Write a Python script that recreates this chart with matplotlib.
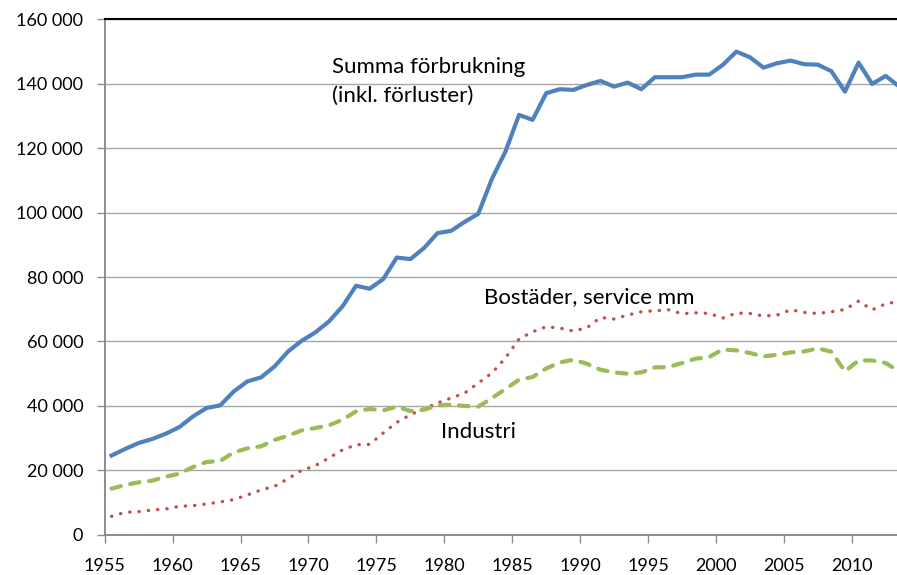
import numpy as np
import matplotlib
matplotlib.use("Agg")
import matplotlib.pyplot as plt
from matplotlib.ticker import FuncFormatter

years = np.arange(1955, 2014)

# Summa förbrukning (inkl. förluster)
summa = [24600, 26640, 28500, 29740, 31380, 33450, 36750, 39340, 40170, 44500,
         47600, 48840, 52250, 56900, 60220, 62800, 66200, 70860, 77280, 76350,
         79350, 86050, 85550, 88970, 93620, 94330, 97120, 99600, 110400, 118930,
         130300, 128750, 137040, 138270, 138060, 139600, 140850, 139080, 140330, 138270,
         142000, 142000, 142000, 142800, 142800, 145800, 149940, 148200, 144980, 146340,
         147150, 146030, 145900, 143860, 137530, 146530, 139920, 142400, 139080]

# Bostäder, service mm
bostader = [5740, 6980, 7200, 7720, 8030, 8840, 9050, 9580, 10200, 10920,
            12370, 13920, 15040, 17430, 20000, 21460, 23850, 26330, 27970, 28060,
            31600, 34890, 37270, 39130, 40900, 42450, 44000, 47100, 50200, 54860,
            60750, 63010, 64560, 64160, 63230, 64250, 67450, 66950, 68190, 69210,
            69520, 69830, 68600, 68900, 68690, 67260, 68810, 68690, 67880, 68190,
            69830, 69000, 68690, 69210, 69930, 72530, 69830, 71690, 72400]

# Industri
industri = [14330, 15470, 16280, 16810, 18050, 18980, 21050, 22600, 22910, 25590,
            26830, 27450, 29430, 30760, 32410, 33150, 33960, 35720, 38300, 39040,
            38610, 39760, 38420, 38820, 40170, 40380, 39970, 39760, 42400, 45240,
            48130, 48960, 51630, 53490, 54330, 53090, 51230, 50390, 49990, 50390,
            51940, 52060, 53300, 54640, 55170, 57530, 57220, 56410, 55360, 55880,
            56600, 56910, 57840, 56810, 50700, 54110, 54110, 53300, 50700]

plt.rcParams['font.family'] = ['Lato', 'DejaVu Sans']

fig = plt.figure(figsize=(8.97, 5.75), dpi=100)
ax = fig.add_axes([0.1168, 0.0699, 0.8832, 0.8967])

x = years + 0.5  # categories sit between the tick marks
ax.plot(x, summa, color='#4F81BD', lw=3.0, solid_joinstyle='round', zorder=3)
ax.plot(x, bostader, color='#C0504D', lw=2.4, linestyle=(0, (0.1, 2.7)),
        dash_capstyle='round', zorder=3)
ax.plot(x, industri, color='#9BBB59', lw=3.0, linestyle=(0, (2.3, 2.3)),
        dash_capstyle='round', zorder=3)

ax.set_xlim(1955, 2013.33)
ax.set_ylim(0, 160000)
ax.set_xticks(np.arange(1955, 2011, 5))
ax.set_yticks(np.arange(0, 160001, 20000))
ax.yaxis.set_major_formatter(FuncFormatter(lambda v, p: f"{int(v):,}".replace(",", " ")))

ax.grid(axis='y', color='#a6a6a6', lw=1.0, zorder=0)
for s in ('left', 'bottom'):
    ax.spines[s].set_color('#8c8c8c')
    ax.spines[s].set_linewidth(1.4)
ax.spines['top'].set_color('black')
ax.spines['top'].set_linewidth(1.5)
ax.spines['right'].set_visible(False)
ax.tick_params(axis='both', direction='out', length=5.5, width=1.0, color='#8c8c8c',
               labelsize=13, labelcolor='black')
ax.tick_params(axis='y', pad=10)
ax.tick_params(axis='x', pad=11)

ax.text(1971.73, 143420, "Summa förbrukning", fontsize=16, ha='left', va='baseline')
ax.text(1971.73, 134490, "(inkl. förluster)", fontsize=16, ha='left', va='baseline')
ax.text(1982.92, 71910, "Bostäder, service mm", fontsize=16, ha='left', va='baseline')
ax.text(1979.73, 30050, "Industri", fontsize=16, ha='left', va='baseline')

fig.savefig("out.png", dpi=100)
